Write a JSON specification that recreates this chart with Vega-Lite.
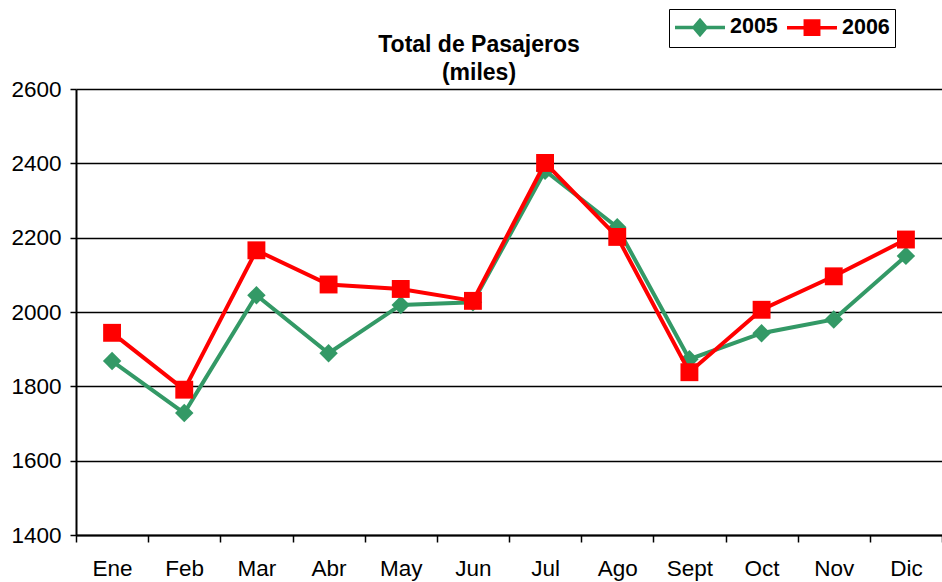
{
  "$schema": "https://vega.github.io/schema/vega-lite/v6.json",
  "width": 866,
  "height": 446,
  "autosize": {"type": "none"},
  "padding": {"left": 76, "top": 89, "right": 0, "bottom": 47},
  "background": "white",
  "config": {
    "font": "Liberation Sans",
    "view": {"stroke": null},
    "axis": {"labelFont": "Liberation Sans", "labelColor": "black", "domainColor": "black", "tickColor": "black"}
  },
  "title": {
    "text": ["Total de Pasajeros", "(miles)"],
    "fontSize": 23,
    "fontWeight": "bold",
    "font": "Liberation Sans",
    "color": "black",
    "anchor": "middle",
    "frame": "group",
    "dx": -30,
    "dy": 76,
    "offset": 0,
    "lineHeight": 27.5
  },
  "data": {
    "values": [
      {"mes": "Ene", "anio": "2005", "pasajeros": 1868},
      {"mes": "Feb", "anio": "2005", "pasajeros": 1728},
      {"mes": "Mar", "anio": "2005", "pasajeros": 2045},
      {"mes": "Abr", "anio": "2005", "pasajeros": 1889},
      {"mes": "May", "anio": "2005", "pasajeros": 2019},
      {"mes": "Jun", "anio": "2005", "pasajeros": 2026},
      {"mes": "Jul", "anio": "2005", "pasajeros": 2380},
      {"mes": "Ago", "anio": "2005", "pasajeros": 2228},
      {"mes": "Sept", "anio": "2005", "pasajeros": 1873},
      {"mes": "Oct", "anio": "2005", "pasajeros": 1943},
      {"mes": "Nov", "anio": "2005", "pasajeros": 1980},
      {"mes": "Dic", "anio": "2005", "pasajeros": 2151},
      {"mes": "Ene", "anio": "2006", "pasajeros": 1944},
      {"mes": "Feb", "anio": "2006", "pasajeros": 1791},
      {"mes": "Mar", "anio": "2006", "pasajeros": 2166},
      {"mes": "Abr", "anio": "2006", "pasajeros": 2074},
      {"mes": "May", "anio": "2006", "pasajeros": 2062},
      {"mes": "Jun", "anio": "2006", "pasajeros": 2030},
      {"mes": "Jul", "anio": "2006", "pasajeros": 2401},
      {"mes": "Ago", "anio": "2006", "pasajeros": 2202},
      {"mes": "Sept", "anio": "2006", "pasajeros": 1838},
      {"mes": "Oct", "anio": "2006", "pasajeros": 2006},
      {"mes": "Nov", "anio": "2006", "pasajeros": 2096},
      {"mes": "Dic", "anio": "2006", "pasajeros": 2195}
    ]
  },
  "encoding": {
    "x": {
      "field": "mes",
      "type": "ordinal",
      "sort": null,
      "bandPosition": 0.5,
      "scale": {"type": "band", "paddingInner": 0, "paddingOuter": 0, "domain": ["Ene", "Feb", "Mar", "Abr", "May", "Jun", "Jul", "Ago", "Sept", "Oct", "Nov", "Dic"]},
      "axis": {
        "title": null,
        "labelAngle": 0,
        "labelFontSize": 22.5,
        "labelPadding": 15,
        "tickBand": "extent",
        "tickSize": 7,
        "tickWidth": 1.5,
        "domainWidth": 2,
        "grid": false
      }
    },
    "y": {
      "field": "pasajeros",
      "type": "quantitative",
      "scale": {"domain": [1400, 2600], "nice": false, "zero": false},
      "axis": {
        "title": null,
        "format": "d",
        "values": [1400, 1600, 1800, 2000, 2200, 2400, 2600],
        "labelFontSize": 22.5,
        "labelPadding": 9,
        "tickSize": 6,
        "tickWidth": 1.5,
        "domainWidth": 2,
        "grid": true,
        "gridColor": "black",
        "gridWidth": 1.5,
        "gridOpacity": 1
      }
    },
    "color": {
      "field": "anio",
      "type": "nominal",
      "scale": {"domain": ["2005", "2006"], "range": ["#339966", "#ff0000"]},
      "legend": {
        "title": null,
        "orient": "none",
        "direction": "horizontal",
        "legendX": 593,
        "legendY": -80,
        "labelFontSize": 21.5,
        "labelFontWeight": "bold",
        "labelColor": "black",
        "labelFont": "Liberation Sans",
        "labelOffset": 17,
        "symbolOffset": 13,
        "columnPadding": 2,
        "padding": 5,
        "strokeColor": "black",
        "fillColor": "white",
        "symbolSize": 484,
        "encoding": {
          "symbols": {
            "shape": {"value": {"expr": "datum.value == '2005' ? 'M-2.27,0L2.27,0M0,-0.64L0.55,0L0,0.64L-0.55,0Z' : 'M-2.27,0L2.27,0M-0.61,-0.61L0.61,-0.61L0.61,0.61L-0.61,0.61Z'"}},
            "fill": {"value": {"expr": "datum.value == '2005' ? '#339966' : '#ff0000'"}},
            "stroke": {"value": {"expr": "datum.value == '2005' ? '#339966' : '#ff0000'"}},
            "strokeWidth": {"value": 3.5},
            "fillOpacity": {"value": 1},
            "opacity": {"value": 1},
            "size": {"value": 484}
          }
        }
      }
    }
  },
  "layer": [
    {
      "transform": [{"filter": "datum.anio == '2005'"}],
      "mark": {"type": "line", "strokeWidth": 4}
    },
    {
      "transform": [{"filter": "datum.anio == '2005'"}],
      "mark": {"type": "point", "filled": true, "shape": "diamond", "size": 340, "opacity": 1}
    },
    {
      "transform": [{"filter": "datum.anio == '2006'"}],
      "mark": {"type": "line", "strokeWidth": 4}
    },
    {
      "transform": [{"filter": "datum.anio == '2006'"}],
      "mark": {"type": "point", "filled": true, "shape": "square", "size": 320, "opacity": 1}
    }
  ]
}
